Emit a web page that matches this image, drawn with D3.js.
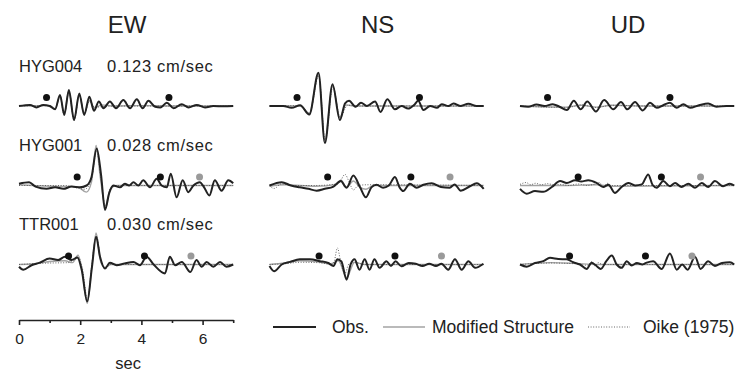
<!DOCTYPE html>
<html>
<head>
<meta charset="utf-8">
<script src="https://cdn.jsdelivr.net/npm/d3@7"></script>
<style>
  body { margin: 0; background: #fff; }
  text { font-family: "Liberation Sans", Arial, Helvetica, sans-serif; fill: #222; }
</style>
</head>
<body>
<svg id="chart" width="740" height="372"></svg>
<script>
// ---- categories and labels ----
const components = ["EW", "NS", "UD"];
const stations = ["HYG004", "HYG001", "TTR001"];
const peakVelocity = [0.123, 0.028, 0.030];   // cm/sec, peak of the observed trace per station
const timeTicks = [0, 2, 4, 6];
const minorTicks = [1, 3, 5, 7];
const legendLabels = ["Obs.", "Modified Structure", "Oike (1975)"];

// arrival markers, seconds
const arrivalBlack = [[0.9, 4.9], [1.9, 4.62], [1.62, 4.1]];
const arrivalGray = [[], [5.9], [5.62]];

// ---- waveforms: [time (s), velocity / station peak] ----
// HYG004
const hyg004EwObs = [[0,0],[0.36,0.03],[0.57,-0.04],[0.79,0.03],[1.0,0],[1.18,-0.09],[1.34,0.3],[1.48,-0.24],[1.63,0.43],[1.8,-0.38],[1.97,0.34],[2.13,-0.24],[2.3,0.25],[2.45,-0.13],[2.61,0.12],[2.76,-0.06],[2.97,0.12],[3.17,-0.06],[3.41,0.16],[3.63,-0.06],[3.85,0.18],[4.04,-0.06],[4.23,0.14],[4.45,-0.02],[4.62,-0.04],[4.83,0.09],[5.05,-0.06],[5.32,0.05],[5.54,-0.04],[5.81,0.03],[6.08,-0.04],[6.35,0],[6.68,-0.01],[7.0,0]];
const hyg004EwMod = [[0,0],[1.0,0.01],[1.18,-0.07],[1.34,0.26],[1.48,-0.22],[1.63,0.4],[1.8,-0.36],[1.97,0.3],[2.13,-0.2],[2.3,0.15],[2.47,-0.05],[2.7,0.03],[3.1,0],[4.0,0.01],[5.0,0],[7,0]];
const hyg004EwOike = [[0,0],[1.0,0.01],[1.18,-0.08],[1.34,0.27],[1.48,-0.26],[1.63,0.41],[1.8,-0.4],[1.97,0.3],[2.13,-0.2],[2.3,0.12],[2.47,-0.03],[3.0,0],[7,0]];
const hyg004NsObs = [[0,0],[0.45,0],[0.72,-0.05],[1.0,0.02],[1.3,-0.23],[1.6,0.9],[1.81,-1.0],[2.06,0.59],[2.3,-0.38],[2.47,0.07],[2.6,0.14],[2.82,-0.02],[2.99,0.09],[3.18,0],[3.45,0.12],[3.63,-0.16],[3.85,0.18],[4.1,-0.09],[4.32,0],[4.53,-0.07],[4.75,0.05],[4.86,0.14],[5.03,-0.11],[5.25,0],[5.47,-0.05],[5.63,0.05],[5.85,0],[6.01,0.07],[6.23,0],[6.5,0.06],[6.77,0],[7,0]];
const hyg004NsMod = [[0,0],[1.0,0],[1.3,-0.2],[1.6,0.85],[1.81,-0.92],[2.06,0.55],[2.3,-0.3],[2.5,0.03],[2.8,0],[7,0]];
const hyg004NsOike = [[0,0],[1.0,0.01],[1.31,-0.2],[1.61,0.82],[1.82,-0.95],[2.07,0.52],[2.31,-0.32],[2.55,0.02],[3.0,0],[7,0]];
const hyg004UdObs = [[0,0],[0.27,-0.02],[0.54,0.04],[0.8,0],[1.07,0.05],[1.29,-0.02],[1.53,-0.11],[1.76,0.14],[1.98,-0.09],[2.2,0.12],[2.48,-0.15],[2.75,0.16],[3.05,-0.09],[3.3,0.11],[3.51,-0.09],[3.76,0.11],[4.01,-0.12],[4.25,0.09],[4.47,-0.05],[4.68,0.02],[4.9,0.09],[5.12,-0.05],[5.34,0.05],[5.56,-0.05],[5.85,0.02],[6.15,0.07],[6.42,-0.02],[6.75,0],[7,0]];
const hyg004UdMod = [[0,0],[1.5,-0.03],[2.0,0.02],[2.5,-0.03],[3.0,0.02],[4.0,0],[7,0]];
const hyg004UdOike = [[0,0],[1.55,-0.04],[2.0,0.03],[2.5,-0.04],[3.0,0.02],[4,0],[7,0]];
// HYG001
const hyg001EwObs = [[0,0.05],[0.33,0.09],[0.54,-0.03],[0.9,-0.09],[1.18,-0.05],[1.45,-0.09],[1.72,-0.03],[1.99,-0.05],[2.21,0],[2.37,0.23],[2.54,1.0],[2.68,0.3],[2.81,-0.66],[2.95,-0.2],[3.08,0],[3.3,-0.05],[3.46,0.05],[3.6,0],[3.74,0.09],[3.9,0],[4.06,0.14],[4.28,-0.05],[4.5,0.18],[4.66,0],[4.83,-0.05],[4.96,0.32],[5.15,-0.32],[5.35,0.14],[5.53,-0.18],[5.7,0],[5.91,0.09],[6.05,-0.05],[6.22,-0.27],[6.4,0.14],[6.62,-0.14],[6.84,0.14],[7.0,0.06]];
const hyg001EwMod = [[0,0.02],[1.0,-0.02],[1.9,-0.03],[2.2,-0.18],[2.37,0.1],[2.52,1.08],[2.66,0.2],[2.82,-0.55],[2.98,-0.1],[3.2,0],[7,0]];
const hyg001EwOike = [[0,0],[1.5,0],[2.15,-0.1],[2.38,0.2],[2.53,0.95],[2.68,0.2],[2.83,-0.6],[3.0,-0.05],[3.3,0],[7,0]];
const hyg001NsObs = [[0,0],[0.4,0.09],[0.7,0],[0.99,-0.05],[1.27,-0.09],[1.54,-0.14],[1.81,-0.09],[2.09,-0.03],[2.33,0.12],[2.52,-0.06],[2.74,0.27],[2.96,-0.05],[3.15,-0.32],[3.33,-0.05],[3.5,0.02],[3.71,-0.06],[3.9,0],[4.1,0.23],[4.25,-0.05],[4.37,-0.15],[4.59,0.05],[4.81,-0.06],[5.03,0.02],[5.3,0.06],[5.6,-0.04],[5.89,-0.06],[6.05,0.03],[6.25,-0.14],[6.55,-0.02],[6.77,0.06],[7.0,-0.09]];
const hyg001NsMod = [[0,-0.02],[0.5,0.02],[1.5,-0.02],[2.2,0.03],[2.33,0.15],[2.52,-0.05],[2.74,0.12],[2.96,-0.05],[3.15,-0.1],[3.4,0],[7,0]];
const hyg001NsOike = [[0,0],[0.15,-0.08],[0.4,0.05],[0.7,0],[1.5,0],[2.25,0.05],[2.47,0.3],[2.6,0.1],[2.74,-0.12],[2.9,0],[3.2,0.02],[7,0]];
const hyg001UdObs = [[0,-0.09],[0.22,-0.22],[0.49,-0.15],[0.76,-0.17],[1.04,-0.04],[1.31,0.12],[1.53,0.07],[1.8,0.14],[2.0,0.11],[2.23,0.14],[2.5,0.07],[2.72,-0.04],[2.89,0.02],[3.1,-0.2],[3.32,-0.04],[3.54,0.07],[3.76,0],[3.98,0.03],[4.19,0.3],[4.33,0.02],[4.47,-0.06],[4.68,0.12],[4.9,-0.02],[5.07,0.07],[5.28,-0.04],[5.5,0.05],[5.72,-0.06],[5.94,0.07],[6.15,-0.04],[6.37,0.12],[6.64,-0.02],[6.86,0.05],[7.0,0]];
const hyg001UdMod = [[0,0],[1.5,0],[2.5,0.02],[3.0,-0.02],[7,0]];
const hyg001UdOike = [[0,0.03],[0.2,0.08],[0.35,0.02],[0.5,0.06],[0.7,0.02],[0.9,0.05],[1.1,0.02],[1.3,0.03],[1.6,0],[1.9,0.04],[2.2,0],[2.4,0.03],[2.6,0.08],[2.72,-0.05],[2.85,0.06],[3.0,0],[7,0]];
// TTR001
const ttr001EwObs = [[0,-0.06],[0.14,-0.14],[0.41,-0.02],[0.68,0.05],[1.0,0.16],[1.28,0.12],[1.5,0.21],[1.72,0.12],[1.91,0.19],[2.05,-0.15],[2.23,-1.0],[2.38,-0.1],[2.52,0.75],[2.65,0.2],[2.81,-0.11],[2.97,0.05],[3.19,-0.02],[3.45,0.03],[3.74,0.07],[3.95,-0.02],[4.17,0.21],[4.4,0.0],[4.77,-0.24],[4.93,0.21],[5.1,-0.02],[5.32,0.07],[5.6,-0.2],[5.8,0.12],[5.97,-0.06],[6.13,0.07],[6.35,-0.06],[6.57,0.07],[6.78,-0.06],[7.0,0]];
const ttr001EwMod = [[0,0],[0.5,0.02],[1.0,0.08],[1.5,0.1],[1.75,0.05],[1.93,0.25],[2.05,-0.1],[2.23,-1.05],[2.38,-0.05],[2.52,0.85],[2.66,0.1],[2.8,-0.08],[3.0,0],[7,0]];
const ttr001EwOike = [[0,0],[1.0,0.04],[1.6,0.05],[1.95,0.18],[2.07,-0.1],[2.24,-0.95],[2.38,0],[2.53,0.8],[2.67,0.1],[2.82,-0.1],[3.0,0],[7,0]];
const ttr001NsObs = [[0,-0.04],[0.15,-0.18],[0.4,0],[0.67,0.07],[0.99,0.14],[1.32,0.14],[1.65,0.09],[1.92,0.04],[2.09,-0.04],[2.22,0.14],[2.35,0.08],[2.52,-0.41],[2.65,0],[2.78,0.14],[2.94,-0.14],[3.11,0.14],[3.27,-0.14],[3.43,0.14],[3.6,-0.09],[3.82,0.09],[3.97,-0.04],[4.12,0.09],[4.31,-0.05],[4.55,0.04],[4.78,0.02],[5.0,-0.04],[5.22,0.02],[5.44,-0.04],[5.62,0.02],[5.84,-0.14],[6.06,0.14],[6.28,-0.14],[6.5,0.09],[6.72,-0.09],[6.99,0.02]];
const ttr001NsMod = [[0,0],[0.5,0.04],[1.0,0.1],[1.5,0.08],[2.0,0.02],[2.25,0.1],[2.52,-0.35],[2.78,0.06],[3.1,0],[7,0]];
const ttr001NsOike = [[0,0],[0.5,0.02],[1.0,0.06],[1.6,0.05],[2.05,0],[2.12,0.1],[2.22,0.45],[2.32,0.1],[2.46,-0.25],[2.6,0.02],[2.8,0.05],[3.1,0],[7,0]];
const ttr001UdObs = [[0,0],[0.22,-0.06],[0.49,0.04],[0.76,0.09],[0.98,0.18],[1.25,0.15],[1.53,0.14],[1.74,0.06],[1.96,0],[2.18,-0.12],[2.34,0.05],[2.5,-0.04],[2.64,-0.12],[2.82,0.09],[3.0,0.24],[3.16,0],[3.32,-0.09],[3.49,0.09],[3.65,-0.03],[3.82,0.04],[4.0,0],[4.14,0.05],[4.35,0.09],[4.63,-0.12],[4.9,0.3],[5.12,-0.14],[5.3,0],[5.48,-0.14],[5.72,0.21],[5.9,-0.12],[6.15,0.09],[6.37,-0.04],[6.6,0.04],[6.86,0.06],[7.0,0]];
const ttr001UdMod = [[0,0],[1.0,0.05],[1.8,0.03],[2.5,0],[7,0]];
const ttr001UdOike = [[0,0],[1.0,0.04],[1.8,0.02],[2.2,-0.02],[2.35,0.08],[2.45,-0.04],[2.55,0.05],[2.7,0],[7,0]];

// station -> component -> series
const traces = [
  [ {obs: hyg004EwObs, mod: hyg004EwMod, oike: hyg004EwOike},
    {obs: hyg004NsObs, mod: hyg004NsMod, oike: hyg004NsOike},
    {obs: hyg004UdObs, mod: hyg004UdMod, oike: hyg004UdOike} ],
  [ {obs: hyg001EwObs, mod: hyg001EwMod, oike: hyg001EwOike},
    {obs: hyg001NsObs, mod: hyg001NsMod, oike: hyg001NsOike},
    {obs: hyg001UdObs, mod: hyg001UdMod, oike: hyg001UdOike} ],
  [ {obs: ttr001EwObs, mod: ttr001EwMod, oike: ttr001EwOike},
    {obs: ttr001NsObs, mod: ttr001NsMod, oike: ttr001NsOike},
    {obs: ttr001UdObs, mod: ttr001UdMod, oike: ttr001UdOike} ]
];

// ---- layout ----
const svg = d3.select("#chart");
const colLeft = [19, 269.5, 520];
const spanW = 214.2;          // 7 seconds
const rowBase = [106, 185.5, 264.5];
const ampPx = 37;             // pixels for one station peak
const axisY = 320;

const styles = {
  mod:  {stroke: "#a3a3a3", width: 1.4, dash: null},
  oike: {stroke: "#555", width: 0.9, dash: "1,1.6"},
  obs:  {stroke: "#222", width: 2.0, dash: null}
};

// column titles
svg.selectAll("text.comp").data(components).join("text")
  .attr("class", "comp")
  .attr("x", (d, j) => colLeft[j] + spanW / 2 + 1)
  .attr("y", 33)
  .attr("text-anchor", "middle")
  .style("font-size", "24px")
  .text(d => d);

// station labels
stations.forEach((s, i) => {
  const by = 71.5 + i * 79.3;
  svg.append("text").attr("x", 19).attr("y", by).style("font-size", "16.5px").text(s);
  svg.append("text").attr("x", 107).attr("y", by).style("font-size", "16.5px")
    .style("letter-spacing", "0.7px")
    .text(peakVelocity[i].toFixed(3) + " cm/sec");
});

// traces
stations.forEach((s, i) => {
  components.forEach((c, j) => {
    const x = d3.scaleLinear().domain([0, 7]).range([colLeft[j], colLeft[j] + spanW]);
    const y = d3.scaleLinear().domain([-1, 1]).range([rowBase[i] + ampPx, rowBase[i] - ampPx]);
    const line = d3.line().x(d => x(d[0])).y(d => y(d[1])).curve(d3.curveMonotoneX);
    const g = svg.append("g");
    ["mod", "oike", "obs"].forEach(k => {
      const st = styles[k];
      g.append("path")
        .attr("d", line(traces[i][j][k]))
        .attr("fill", "none")
        .attr("stroke", st.stroke)
        .attr("stroke-width", st.width)
        .attr("stroke-dasharray", st.dash)
        .attr("stroke-linejoin", "round");
    });
    const dotY = rowBase[i] - 8.5;
    g.selectAll("circle.b").data(arrivalBlack[i]).join("circle")
      .attr("cx", d => x(d)).attr("cy", dotY).attr("r", 3.5).attr("fill", "#111");
    g.selectAll("circle.g").data(arrivalGray[i]).join("circle")
      .attr("cx", d => x(d)).attr("cy", dotY).attr("r", 3.5).attr("fill", "#9a9a9a");
  });
});

// time axis under the EW column
const xAxisScale = d3.scaleLinear().domain([0, 7]).range([colLeft[0], colLeft[0] + spanW]);
const axG = svg.append("g").attr("transform", `translate(0,${axisY})`);
axG.call(d3.axisBottom(xAxisScale).tickValues(timeTicks).tickSize(5).tickSizeOuter(0).tickPadding(8)
  .tickFormat(d3.format("d")));
axG.select(".domain").attr("stroke", "#222").attr("stroke-width", 1.6);
axG.selectAll(".tick line").attr("stroke", "#222").attr("stroke-width", 1.6);
axG.selectAll(".tick text").style("font-size", "15.5px").attr("fill", "#222")
  .style("font-family", "\"Liberation Sans\", Arial, sans-serif");
const minorG = svg.append("g").attr("transform", `translate(0,${axisY})`);
minorG.call(d3.axisBottom(xAxisScale).tickValues(minorTicks).tickSize(3).tickSizeOuter(0).tickFormat(""));
minorG.select(".domain").remove();
minorG.selectAll(".tick line").attr("stroke", "#222").attr("stroke-width", 1.6);

svg.append("text").attr("x", colLeft[0] + spanW / 2 + 2).attr("y", 369)
  .attr("text-anchor", "middle").style("font-size", "16.5px").text("sec");

// legend
const legendY = 327;
const legendItems = [
  {key: "obs", x1: 273, x2: 316, tx: 332},
  {key: "mod", x1: 383, x2: 425, tx: 432},
  {key: "oike", x1: 588, x2: 630, tx: 643}
];
legendItems.forEach((it, k) => {
  const st = styles[it.key];
  svg.append("line").attr("x1", it.x1).attr("x2", it.x2).attr("y1", legendY).attr("y2", legendY)
    .attr("stroke", st.stroke).attr("stroke-width", st.width).attr("stroke-dasharray", st.dash);
  svg.append("text").attr("x", it.tx).attr("y", legendY + 6).style("font-size", "17.5px").text(legendLabels[k]);
});
</script>
</body>
</html>
